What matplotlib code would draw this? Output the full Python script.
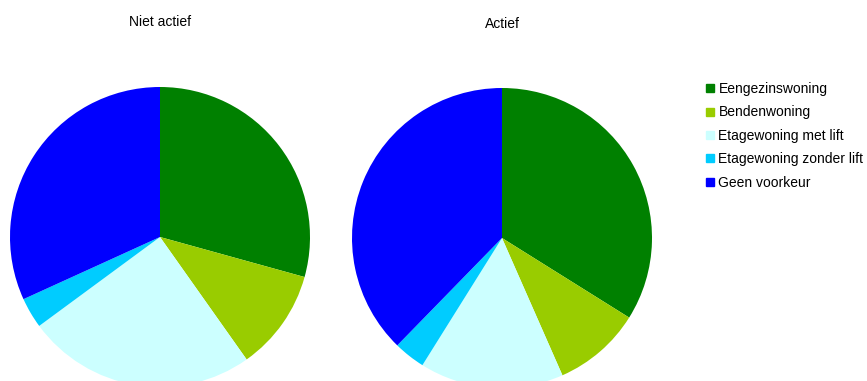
import matplotlib.pyplot as plt
from matplotlib.lines import Line2D

plt.rcParams['font.family'] = ['Liberation Sans', 'DejaVu Sans']

# Woningvoorkeur per groep (percentages)
categories = ['Eengezinswoning', 'Bendenwoning', 'Etagewoning met lift',
              'Etagewoning zonder lift', 'Geen voorkeur']
niet_actief = [29.3, 10.9, 24.7, 3.3, 31.8]
actief = [33.9, 9.5, 15.5, 3.4, 37.7]
colors = ['#008000', '#99CC00', '#CCFFFF', '#00CCFF', '#0000FF']

W, H = 867, 381
fig = plt.figure(figsize=(W / 100, H / 100), dpi=100)

def pie_axes(cx, cy, r):
    # axes in pixel coordinates (top-left origin) -> figure fraction
    return fig.add_axes([(cx - r) / W, (H - cy - r) / H, 2 * r / W, 2 * r / H])

ax1 = pie_axes(160, 237, 150)
ax2 = pie_axes(502, 238, 150)

for ax, vals in [(ax1, niet_actief), (ax2, actief)]:
    ax.pie(vals, colors=colors, startangle=90, counterclock=False,
           radius=1, wedgeprops=dict(linewidth=0))
    ax.set_xlim(-1, 1)
    ax.set_ylim(-1, 1)
    ax.set_aspect('equal')
    ax.axis('off')

fig.text(160 / W, 1 - 22 / H, 'Niet actief', ha='center', va='center', fontsize=10)
fig.text(502 / W, 1 - 24 / H, 'Actief', ha='center', va='center', fontsize=10)

handles = [Line2D([], [], marker='s', linestyle='none', markersize=6,
                  markerfacecolor=c, markeredgecolor=c) for c in colors]
fig.legend(handles, categories, loc='upper left',
           bbox_to_anchor=(706 / W, 1 - 82 / H), frameon=False,
           fontsize=10, labelspacing=0.68, handlelength=0.6,
           handletextpad=0.3, borderpad=0, borderaxespad=0)

fig.savefig('out.png', dpi=100)
